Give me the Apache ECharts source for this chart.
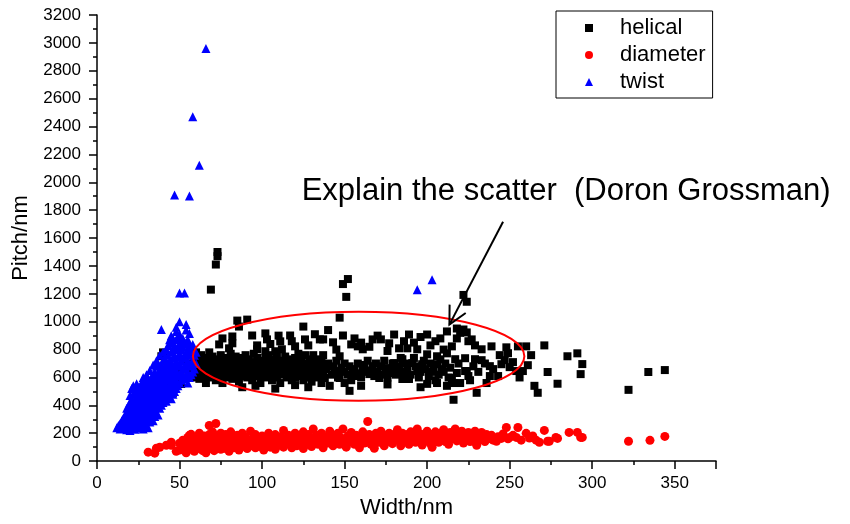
<!DOCTYPE html>
<html>
<head>
<meta charset="utf-8">
<script src="https://cdn.jsdelivr.net/npm/echarts@6/dist/echarts.min.js"></script>
<style>html,body{margin:0;padding:0;background:#fff}#c{width:850px;height:524px}</style>
</head>
<body>
<div id="c"></div>
<script>
// ---- data (Width/nm, Pitch/nm) ----
const seriesNames = ['helical', 'diameter', 'twist'];

const helical = [
[39,752],[40,780],[44,553],[45,518],[46,490],[49,646],[51,553],[53,600],
[69,1230],[72,1410],[73,1470],[73,1500],
[147,1029],[149,1270],[151,1178],[152,1306],[222,1192],[224,1143],
[255,823],[260,823],[271,830],[248,816],[249,774],[239,823],[233,802],[229,830],[227,873],[224,923],[222,944],[218,951],[212,930],[208,880],[200,908],[189,908],[180,908],[172,873],[167,873],[149,901],[154,837],[158,823],[137,873],[143,852],
[285,752],[291,773],[294,696],[293,624],[279,555],[322,511],[334,639],[344,653],
[273,639],[258,646],[254,646],[261,688],[250,674],[245,695],[238,681],[247,724],[233,724],[229,731],[223,738],[243,610],[238,610],[225,610],[223,646],[267,490],[230,490],[216,440],
[147,752],[161,802],[177,845],[183,809],[188,809],[194,802],[200,766],[206,752],[215,823],[217,731],[212,773],[206,695],[204,660],[209,660],[215,596],[218,632],[224,646],[212,540],[200,554],[141,540],[153,504],[185,589],[189,589],[194,646],[191,703],[185,731],[180,703],[175,667],[167,681],[161,660],[155,632],[147,646],[139,660],[138,596],[147,596],[157,610],[165,624],[171,596],[177,632],[182,646],[186,610],[197,695],
[85,1008],[91,1015],[86,965],[76,880],[82,894],[94,901],[102,916],[103,873],[97,830],[111,859],[117,901],[125,965],[126,873],[135,873],[120,823],[112,802],[108,788],[102,788],[97,802],[82,845],[74,837],[80,809],
[55,700],[56,640],[57,760],[58,600],[58,680],[59,730],[60,620],[60,780],[61,660],[62,590],[62,720],[63,640],[63,760],[64,700],[65,600],[65,670],[66,740],[66,560],[67,630],[67,690],[68,780],[68,650],[69,600],[69,710],[70,670],[70,750],[71,620],[72,690],[72,580],[73,730],[73,650],[74,610],[74,700],[75,760],[75,660],[76,630],[76,560],[77,690],[77,720],[78,650],[78,600],[79,740],[79,680],[80,620],[80,700],[81,660],[81,770],[82,590],[82,640],[83,720],[83,680],[84,610],[84,750],[85,660],[85,700],[86,630],[86,570],[87,690],[87,740],[88,650],[88,610],[89,720],[89,680],[90,640],[90,760],[91,600],[91,700],[92,670],[92,730],[93,620],[93,690],[94,650],[94,580],[95,710],[95,770],[96,640],[96,680],[97,610],[97,740],[98,660],[98,700],[99,630],[99,560],[100,690],[100,720],[101,650],[101,610],[102,740],[102,670],[103,600],[103,700],[104,640],[104,760],[105,680],[105,620],[106,710],[106,580],[107,660],[107,730],[108,630],[108,690],[109,600],[109,750],[110,670],[110,700],[111,640],[111,560],[112,720],[112,680],[113,620],[113,660],[114,700],[114,750],[115,600],[115,640],[116,690],[116,730],[117,660],[117,620],[118,580],[118,710],[119,680],[119,640],[120,740],[120,600],[121,660],[121,700],[122,630],[122,770],[123,690],[123,610],[124,650],[124,720],[125,580],[125,680],[126,640],[126,760],[127,700],[127,620],[128,660],[128,600],[129,730],[129,680],[130,640],[130,570],[131,700],[131,760],[132,620],[132,660],[133,690],[133,730],[134,600],[134,650],[135,680],[135,620],[136,710],[136,560],[137,640],[137,760],
[140,700],[142,620],[143,680],[144,640],[145,720],[146,600],[148,670],[150,640],[150,700],[152,620],[153,680],[154,580],[156,660],[158,700],[159,630],[160,600],[162,690],[163,640],[164,720],[166,650],[168,610],[169,700],[170,640],[172,680],[173,620],[174,720],[176,600],[178,660],[179,700],[181,620],[183,680],[184,740],[186,640],[187,700],[188,660],[190,620],[192,740],[193,680],[195,600],[196,640],[198,720],[199,660],[201,610],[202,700],[203,640],[205,580],[207,620],[208,730],[210,640],[211,700],[213,600],[214,670],[216,560],[219,700],[220,560],[226,580],[228,680],[231,640],[235,700],[236,560],[240,660],[244,760],[252,710],[256,600],[263,760],[265,540],
[105,840],[110,900],[118,860],[128,830],[132,910],[140,940],[145,800],[156,880],[160,850],[165,820],[170,900],[176,790],[186,860],[192,850],[196,890],[202,830],[205,860],[210,800],[218,880],[220,920],[225,860],
[88,530],[96,540],[108,520],[120,545],[128,530],[150,560],[160,540],[176,550],[196,530],[206,560]
];

const diameter = [
[31,64],[35,57],[36,92],[38,99],[42,114],[45,135],[45,114],[48,70],[50,128],[50,80],[52,150],[53,100],[54,60],[55,170],[56,185],[56,120],[57,192],[57,85],[58,140],[59,70],[60,110],[60,160],[61,163],[62,90],[62,200],[63,130],[64,75],[64,150],[65,180],[66,105],[66,60],[67,140],[68,255],[68,190],[69,90],[69,120],[70,160],[70,210],[71,75],[71,135],[72,270],[72,100],[73,180],[73,150],[74,120],[75,85],[75,200],[76,140],[77,165],[77,110],[78,90],[78,190],[79,130],[80,150],[80,70],[81,210],[82,115],[82,170],[83,95],[84,140],[85,185],[85,120],[86,80],[87,160],[88,105],[88,200],[89,140],[90,120],[90,175],[91,90],[92,150],[93,215],[93,110],[94,135],[95,170],[96,95],[96,190],[97,125],[98,155],[99,105],[100,180],[100,140],[101,80],[102,165],[103,120],[104,200],[104,145],[105,100],[106,170],[107,130],[108,190],[108,85],[109,150],[110,115],[111,175],[112,140],[113,220],[113,100],[114,160],[115,125],[116,185],[117,145],[118,95],[119,170],[120,130],[120,200],[121,110],[122,155],[123,180],[124,135],[125,90],[125,210],[126,160],[127,120],[128,190],[129,145],[130,105],[130,170],[131,230],[132,140],[133,185],[134,120],[135,160],[136,200],[137,95],[138,150],[139,175],[140,130],[141,215],[142,160],[143,110],[144,185],[145,140],[146,200],[147,120],[148,165],[149,230],[150,150],[151,100],[152,180],[153,135],[154,205],[155,160],[156,120],[157,185],[158,145],[159,95],[160,175],[161,210],[162,130],[163,160],[164,284],[165,190],[166,120],[167,150],[168,92],[169,200],[170,170],[171,135],[172,215],[173,155],[174,110],[175,185],[176,140],[177,200],[178,165],[179,125],[180,190],[181,150],[182,225],[183,175],[184,110],[185,200],[186,140],[187,165],[188,190],[189,120],[190,210],[191,150],[192,180],[193,135],[194,230],[195,160],[196,195],[197,115],[198,175],[199,145],[200,215],[201,165],[202,125],[203,99],[203,190],[204,150],[205,210],[206,175],[207,135],[208,200],[209,160],[210,225],[211,140],[212,185],[213,120],[214,205],[215,160],[216,180],[217,230],[218,145],[219,195],[220,165],[221,215],[222,130],[223,180],[224,155],[225,205],[226,140],[227,190],[228,170],[229,215],[230,114],[230,160],[231,195],[232,150],[233,206],[234,175],[235,140],[236,190],[237,160],[239,185],[240,150],[242,142],[243,175],[245,163],[246,195],[248,241],[249,160],[250,170],[252,185],[254,170],[255,241],[257,150],[260,199],[262,165],[264,180],[266,150],[268,135],[271,220],[273,142],[274,142],[278,170],[279,163],[286,206],[291,206],[293,170],[294,170],[322,142],[335,149],[344,177]
];

const twist = [
[12,240],[13,255],[14,230],[14,270],[15,245],[15,290],[16,235],[16,310],[17,260],[17,330],
[18,225],[18,280],[18,345],[18,380],[19,240],[19,300],[19,330],[19,395],
[20,220],[20,262],[20,310],[20,360],[20,420],[20,470],
[21,235],[21,290],[21,340],[21,385],[21,445],[21,520],
[22,250],[22,275],[22,320],[22,365],[22,410],[22,480],[22,540],
[23,228],[23,300],[23,345],[23,390],[23,430],[23,505],
[24,260],[24,285],[24,330],[24,375],[24,415],[24,460],[24,555],
[25,240],[25,310],[25,355],[25,400],[25,440],[25,490],[25,530],
[26,270],[26,295],[26,340],[26,380],[26,425],[26,470],[26,515],
[27,250],[27,320],[27,365],[27,410],[27,450],[27,500],[27,560],
[28,230],[28,290],[28,345],[28,390],[28,435],[28,480],[28,540],[28,600],
[29,275],[29,330],[29,370],[29,420],[29,460],[29,520],[29,575],
[30,255],[30,310],[30,350],[30,400],[30,445],[30,495],[30,550],[30,620],
[31,240],[31,300],[31,360],[31,390],[31,430],[31,475],[31,530],[31,590],
[32,280],[32,330],[32,375],[32,415],[32,465],[32,510],[32,565],[32,650],
[33,300],[33,345],[33,395],[33,440],[33,485],[33,540],[33,600],
[34,290],[34,360],[34,410],[34,460],[34,500],[34,555],[34,620],[34,690],
[35,320],[35,380],[35,430],[35,470],[35,520],[35,580],[35,640],
[36,340],[36,400],[36,450],[36,490],[36,545],[36,600],[36,680],[36,720],
[37,330],[37,420],[37,470],[37,510],[37,560],[37,620],[37,700],
[38,380],[38,440],[38,500],[38,545],[38,600],[38,660],[38,760],
[39,400],[39,460],[39,520],[39,570],[39,630],[39,690],[39,944],
[40,420],[40,480],[40,540],[40,600],[40,650],[40,720],[40,780],
[41,440],[41,500],[41,560],[41,610],[41,670],[41,740],
[42,430],[42,470],[42,530],[42,590],[42,640],[42,700],[42,800],
[43,460],[43,520],[43,580],[43,630],[43,690],[43,760],[43,830],
[44,450],[44,490],[44,550],[44,610],[44,660],[44,720],[44,870],
[45,447],[45,510],[45,570],[45,640],[45,700],[45,780],[45,850],[45,900],
[46,480],[46,540],[46,600],[46,660],[46,740],[46,810],[46,880],
[47,500],[47,560],[47,620],[47,690],[47,760],[47,830],[47,1909],
[48,520],[48,580],[48,650],[48,720],[48,800],[48,870],[48,930],[48,960],
[49,540],[49,610],[49,680],[49,750],[49,820],[49,890],
[50,560],[50,620],[50,700],[50,770],[50,840],[50,910],[50,1000],[50,1206],
[51,580],[51,640],[51,720],[51,800],[51,860],
[52,590],[52,660],[52,740],[52,820],[52,880],[53,1206],
[53,600],[53,670],[53,760],[53,840],[54,940],
[54,620],[54,700],[54,780],[54,850],[54,980],
[55,560],[55,640],[55,720],[55,800],[55,870],
[56,600],[56,680],[56,760],[56,830],[56,915],[56,1902],
[57,620],[57,700],[57,790],[58,2470],
[58,640],[58,720],[58,837],[59,660],[59,760],[60,700],[60,780],
[62,2122],[66,2960],[194,1230],[203,1300]
];

// annotation, in data units
const noteText = 'Explain the scatter  (Doron Grossman)';
const notePos = [124, 1937];
const arrowFrom = [246, 1717];
const arrowTo = [213.5, 979];
const ellipseCenter = [158.5, 752];
const ellipseRadii = [100.4, 319];

const FONT = "'Liberation Sans', Arial, sans-serif";
const chart = echarts.init(document.getElementById('c'), null, {renderer: 'canvas'});

const axisCommon = {
  axisLine: {show: true, onZero: false, lineStyle: {color: '#000', width: 1.5}},
  axisTick: {show: true, inside: false, length: 8, lineStyle: {color: '#000', width: 1.5}},
  minorTick: {show: true, splitNumber: 2, length: 4, lineStyle: {color: '#000', width: 1.5}},
  splitLine: {show: false},
  minorSplitLine: {show: false},
  nameLocation: 'middle',
  nameTextStyle: {fontFamily: FONT, fontSize: 22, color: '#000'}
};

const option = {
  animation: false,
  backgroundColor: '#fff',
  grid: {left: 97, right: 134, top: 15, bottom: 58, containLabel: false},
  legend: {
    orient: 'vertical', left: 556, top: 11,
    padding: [6, 7, 5, 29],
    borderColor: '#000', borderWidth: 1,
    itemWidth: 8, itemHeight: 8, itemGap: 5,
    textStyle: {fontFamily: FONT, fontSize: 22, color: '#000', lineHeight: 22, padding: [0, 0, 0, 22]},
    data: [
      {name: seriesNames[0], icon: 'rect', itemStyle: {color: '#000'}},
      {name: seriesNames[1], icon: 'circle'},
      {name: seriesNames[2], icon: 'triangle'}
    ]
  },
  xAxis: Object.assign({}, axisCommon, {
    type: 'value', min: 0, max: 375, interval: 50,
    name: 'Width/nm', nameGap: 34,
    axisLabel: {fontFamily: FONT, fontSize: 17, color: '#000', margin: 14,
      formatter: v => (v % 50 === 0 ? String(v) : '')}
  }),
  yAxis: Object.assign({}, axisCommon, {
    type: 'value', min: 0, max: 3200, interval: 200,
    name: 'Pitch/nm', nameGap: 64,
    axisLabel: {fontFamily: FONT, fontSize: 17, color: '#000', margin: 16,
      formatter: v => String(v)}
  }),
  series: [
    {name: seriesNames[0], type: 'scatter', data: helical, symbol: 'rect', symbolSize: 8,
      itemStyle: {color: '#000', opacity: 1}, z: 2},
    {name: seriesNames[1], type: 'scatter', data: diameter, symbol: 'circle', symbolSize: 9,
      itemStyle: {color: '#ff0000', opacity: 1}, z: 3},
    {name: seriesNames[2], type: 'scatter', data: twist, symbol: 'triangle', symbolSize: 9,
      itemStyle: {color: '#0000ff', opacity: 1}, z: 4}
  ]
};
chart.setOption(option);

// annotations positioned through the axes
const P = p => chart.convertToPixel({gridIndex: 0}, p);
const c = P(ellipseCenter);
const e = P([ellipseCenter[0] + ellipseRadii[0], ellipseCenter[1] + ellipseRadii[1]]);
const a0 = P(arrowFrom), a1 = P(arrowTo), tp = P(notePos);
const ang = Math.atan2(a0[1] - a1[1], a0[0] - a1[0]);
const headLen = 20, headAng = 27 * Math.PI / 180;
const w1 = [a1[0] + headLen * Math.cos(ang - headAng), a1[1] + headLen * Math.sin(ang - headAng)];
const w2 = [a1[0] + headLen * Math.cos(ang + headAng), a1[1] + headLen * Math.sin(ang + headAng)];

chart.setOption({
  graphic: [
    {type: 'ellipse', z: 100, shape: {cx: c[0], cy: c[1], rx: Math.abs(e[0] - c[0]), ry: Math.abs(e[1] - c[1])},
      style: {fill: null, stroke: '#ff0000', lineWidth: 2}},
    {type: 'line', z: 100, shape: {x1: a0[0], y1: a0[1], x2: a1[0], y2: a1[1]}, style: {stroke: '#000', lineWidth: 2}},
    {type: 'polyline', z: 100, shape: {points: [w1, a1, w2]}, style: {stroke: '#000', lineWidth: 2, fill: null}},
    {type: 'text', z: 100, x: tp[0], y: tp[1],
      style: {text: noteText, fontFamily: FONT, fontSize: 31, fill: '#000', verticalAlign: 'middle', align: 'left'}}
  ]
});
</script>
</body>
</html>
